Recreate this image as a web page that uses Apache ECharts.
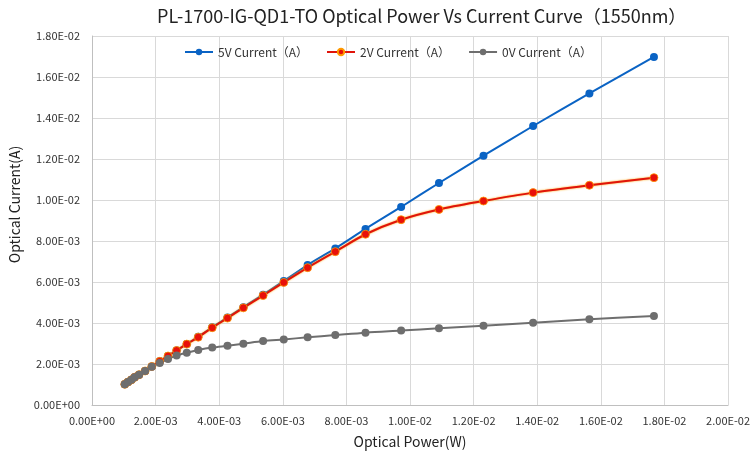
<!DOCTYPE html>
<html>
<head>
<meta charset="utf-8">
<script src="https://cdn.jsdelivr.net/npm/echarts@6/dist/echarts.min.js"></script>
<style>
  html, body { margin: 0; padding: 0; background: #fff; }
  #chart-container { width: 753px; height: 457px; }
</style>
</head>
<body>
<div id="chart-container"></div>
<script>
// values in milli-units (mW / mA), converted to W / A below
var powerMilli = [1.03, 1.13, 1.24, 1.34, 1.48, 1.67, 1.88, 2.13, 2.39, 2.66, 2.98, 3.34, 3.78,
  4.26, 4.76, 5.38, 6.03, 6.78, 7.65, 8.60, 9.72, 10.91, 12.31, 13.87, 15.64, 17.67];
var current5V = [1.01, 1.12, 1.23, 1.35, 1.48, 1.66, 1.88, 2.13, 2.39, 2.66, 2.98, 3.33, 3.79,
  4.27, 4.77, 5.38, 6.05, 6.83, 7.64, 8.59, 9.66, 10.83, 12.16, 13.61, 15.20, 16.98];
var current2V = [1.01, 1.12, 1.23, 1.35, 1.48, 1.66, 1.88, 2.13, 2.39, 2.66, 2.97, 3.31, 3.77,
  4.24, 4.74, 5.34, 5.98, 6.70, 7.48, 8.33, 9.04, 9.54, 9.95, 10.36, 10.72, 11.09];
var current0V = [1.01, 1.12, 1.23, 1.35, 1.48, 1.66, 1.87, 2.05, 2.24, 2.41, 2.55, 2.68, 2.80,
  2.89, 2.99, 3.12, 3.20, 3.30, 3.41, 3.53, 3.63, 3.74, 3.87, 4.01, 4.18, 4.34];
var seriesNames = ['5V Current（A）', '2V Current（A）', '0V Current（A）'];

function pairs(ys) {
  return powerMilli.map(function (x, i) {
    return [x / 1000, ys[i] / 1000];
  });
}

// Excel style 1.80E-02
function sci(v) {
  if (v === 0) return '0.00E+00';
  var s = Number(v).toExponential(2).toUpperCase();
  var parts = s.split('E');
  var e = parseInt(parts[1], 10);
  var sign = e < 0 ? '-' : '+';
  var abs = Math.abs(e);
  return parts[0] + 'E' + sign + (abs < 10 ? '0' + abs : abs);
}

var dom = document.getElementById('chart-container');
var myChart = echarts.init(dom, null, { renderer: 'canvas' });

var font = 'Noto Sans CJK SC';

var option = {
  animation: false,
  backgroundColor: '#fff',
  title: {
    text: 'PL-1700-IG-QD1-TO Optical Power Vs Current Curve（1550nm）',
    left: 152,
    top: 2,
    textStyle: { fontFamily: font, fontSize: 18, fontWeight: 'normal', color: '#222' }
  },
  legend: {
    top: 41,
    left: 179,
    itemGap: 18,
    itemWidth: 28,
    itemHeight: 8,
    textStyle: { fontFamily: font, fontSize: 12, color: '#333' },
    data: seriesNames
  },
  grid: { left: 90, right: 22, top: 36, bottom: 52 },
  xAxis: {
    type: 'value',
    min: 0,
    max: 0.02,
    interval: 0.002,
    name: 'Optical Power(W)',
    nameLocation: 'middle',
    nameGap: 30,
    nameTextStyle: { fontFamily: font, fontSize: 14, color: '#222' },
    axisLine: { show: true, lineStyle: { color: '#bfbfbf' } },
    axisTick: { show: false },
    axisLabel: { formatter: sci, fontFamily: font, fontSize: 11, color: '#333', margin: 10 },
    splitLine: { show: true, lineStyle: { color: '#d9d9d9' } }
  },
  yAxis: {
    type: 'value',
    min: 0,
    max: 0.018,
    interval: 0.002,
    name: 'Optical Current(A)',
    nameLocation: 'middle',
    nameGap: 70,
    nameTextStyle: { fontFamily: font, fontSize: 14, color: '#222', padding: [0, 0, 0, 32] },
    axisLine: { show: true, lineStyle: { color: '#bfbfbf' } },
    axisTick: { show: false },
    axisLabel: { formatter: sci, fontFamily: font, fontSize: 11, color: '#333', margin: 12 },
    splitLine: { show: true, lineStyle: { color: '#d9d9d9' } }
  },
  series: [
    {
      name: seriesNames[0],
      type: 'line',
      smooth: 0.3,
      symbol: 'circle',
      symbolSize: 8,
      data: pairs(current5V),
      lineStyle: { color: '#0a63c4', width: 2 },
      itemStyle: { color: '#0a63c4', borderColor: '#0a63c4', borderWidth: 0 }
    },
    {
      name: seriesNames[1],
      type: 'line',
      smooth: 0.3,
      symbol: 'circle',
      symbolSize: 8,
      data: pairs(current2V),
      lineStyle: { color: '#e0140a', width: 2, shadowColor: '#ffa200', shadowBlur: 2 },
      itemStyle: { color: '#e8100a', borderColor: '#ff9a00', borderWidth: 0.8 }
    },
    {
      name: seriesNames[2],
      type: 'line',
      smooth: 0.3,
      symbol: 'circle',
      symbolSize: 8,
      data: pairs(current0V),
      lineStyle: { color: '#6e6e6e', width: 2 },
      itemStyle: { color: '#6e6e6e' }
    }
  ]
};

myChart.setOption(option);
window.addEventListener('resize', myChart.resize);
</script>
</body>
</html>
